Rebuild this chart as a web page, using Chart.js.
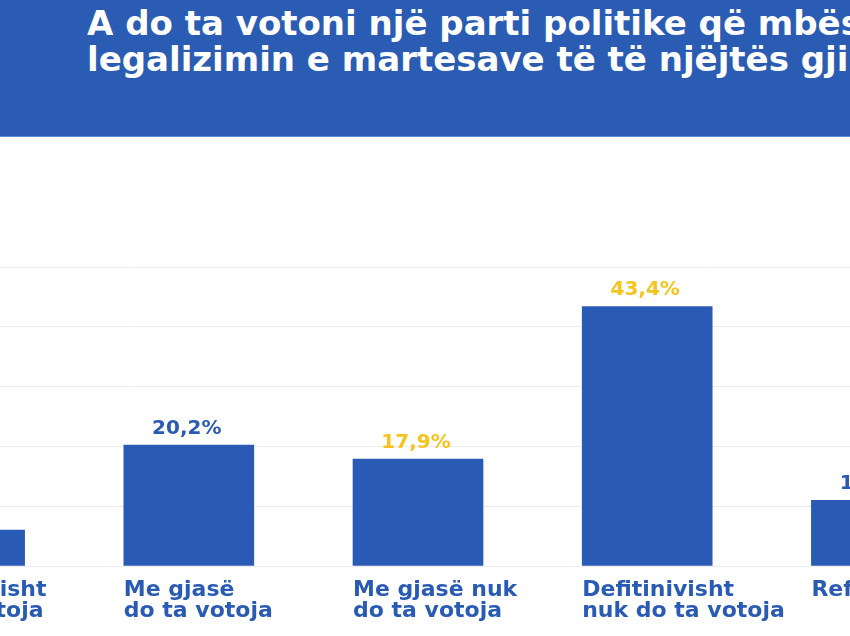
<!DOCTYPE html>
<html>
<head>
<meta charset="utf-8">
<script src="https://cdn.jsdelivr.net/npm/chart.js@4"></script>
<style>
  html, body { margin: 0; padding: 0; width: 850px; height: 636px; overflow: hidden; background: #ffffff; position: relative; }
  #header { position: absolute; left: 0; top: 0; width: 850px; height: 136px; background: #2b5cb3; border-bottom: 1px solid #5a8ed6; overflow: hidden; }
  #header div { position: absolute; left: 87px; white-space: nowrap; color: #ffffff; font-family: "DejaVu Sans", sans-serif; font-weight: 700; font-size: 34px; line-height: 34px; }
  #l1 { top: 6px; }
  #l2 { top: 42px; }
  #wrap { position: absolute; left: -155px; top: 137px; width: 1146px; height: 499px; }
</style>
</head>
<body>
<div id="header"><div id="l1">A do ta votoni një parti politike që mbështet</div><div id="l2">legalizimin e martesave të të njëjtës gjinisë?</div></div>
<div id="wrap"><canvas id="c"></canvas></div>
<script>
const categories = [
  ["Definitivisht", "do ta votoja"],
  ["Me gjasë", "do ta votoja"],
  ["Me gjasë nuk", "do ta votoja"],
  ["Defitinivisht", "nuk do ta votoja"],
  "Refuzoj"
];
const values = [6.0, 20.2, 17.9, 43.4, 11.0];
const yTicks = [0, 10, 20, 30, 40, 50];

const BLUE = "#2a5bb4";
const YELLOW = "#f5c41e";
const labelColors = [YELLOW, BLUE, YELLOW, YELLOW, BLUE];

const valueLabels = {
  id: "valueLabels",
  afterDatasetsDraw(chart) {
    const ctx = chart.ctx;
    const meta = chart.getDatasetMeta(0);
    ctx.save();
    ctx.font = "700 20px 'DejaVu Sans', sans-serif";
    ctx.textAlign = "center";
    ctx.textBaseline = "alphabetic";
    meta.data.forEach((bar, i) => {
      ctx.fillStyle = labelColors[i];
      const txt = values[i].toFixed(1).replace(".", ",") + "%";
      ctx.fillText(txt, bar.x - 2, bar.y - 11);
    });
    ctx.restore();
  }
};

new Chart(document.getElementById("c"), {
  type: "bar",
  data: {
    labels: categories,
    datasets: [{
      data: values,
      backgroundColor: BLUE,
      borderWidth: 0,
      barThickness: 130
    }]
  },
  options: {
    responsive: true,
    maintainAspectRatio: false,
    animation: false,
    layout: { padding: { top: 130, left: 0, right: 0, bottom: 0 } },
    plugins: { legend: { display: false }, tooltip: { enabled: false }, title: { display: false } },
    scales: {
      x: {
        offset: true,
        grid: { display: false },
        border: { display: false },
        afterFit(scale) { scale.height = 70; scale.paddingLeft = 0; scale.paddingRight = 0; },
        ticks: {
          align: "start",
          labelOffset: -65,
          padding: 6,
          maxRotation: 0,
          autoSkip: false,
          color: BLUE,
          font: { family: "'DejaVu Sans', sans-serif", weight: "700", size: 22, lineHeight: 0.96 }
        }
      },
      y: {
        min: 0,
        max: 50,
        afterFit(scale) { scale.width = 0; scale.paddingTop = 0; scale.paddingBottom = 0; },
        afterBuildTicks(scale) { scale.ticks = yTicks.map(v => ({ value: v })); },
        ticks: { display: false },
        border: { display: false },
        grid: { color: "#ececec", lineWidth: 1, drawTicks: false }
      }
    }
  },
  plugins: [valueLabels]
});
</script>
</body>
</html>
